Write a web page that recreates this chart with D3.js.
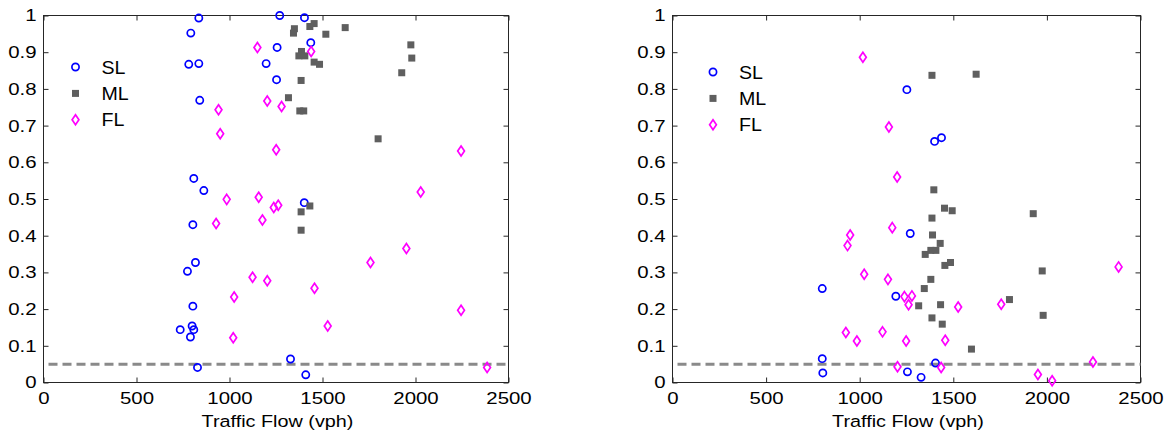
<!DOCTYPE html>
<html>
<head>
<meta charset="utf-8">
<script src="https://cdn.jsdelivr.net/npm/d3@7"></script>
<style>
  html, body { margin: 0; padding: 0; background: #fff; }
  svg { display: block; font-family: "Liberation Sans", Arial, sans-serif; }
</style>
</head>
<body>
<svg id="chart" width="1173" height="432"></svg>
<script>
// Axis ticks shared by both panels
const xTicks = [0, 500, 1000, 1500, 2000, 2500];
const yTicks = [0, 0.1, 0.2, 0.3, 0.4, 0.5, 0.6, 0.7, 0.8, 0.9, 1];
const xTickLabels = ["0", "500", "1000", "1500", "2000", "2500"];
const yTickLabels = ["0", "0.1", "0.2", "0.3", "0.4", "0.5", "0.6", "0.7", "0.8", "0.9", "1"];
const seriesNames = ["SL", "ML", "FL"];
const xLabel = "Traffic Flow (vph)";
const threshold = 0.05;

// Left panel: [flow, value]
const leftSL = [
  [835, 0.993], [792, 0.952], [781, 0.867], [835, 0.869], [840, 0.769],
  [1270, 1.0], [1256, 0.913], [1197, 0.869], [1253, 0.825], [808, 0.556],
  [862, 0.523], [1403, 0.994], [1437, 0.926], [803, 0.430], [817, 0.327],
  [774, 0.303], [803, 0.208], [735, 0.144], [799, 0.154], [808, 0.144],
  [790, 0.124], [828, 0.041], [1328, 0.064], [1402, 0.490], [1410, 0.021]
];
const leftML = [
  [1349, 0.964], [1344, 0.952], [1432, 0.970], [1455, 0.978], [1518, 0.949],
  [1622, 0.967], [1975, 0.920], [1980, 0.884], [1926, 0.844], [1387, 0.902],
  [1373, 0.890], [1405, 0.890], [1455, 0.873], [1484, 0.867], [1385, 0.823],
  [1317, 0.776], [1378, 0.740], [1399, 0.740], [1799, 0.664], [1385, 0.465],
  [1432, 0.481], [1385, 0.415]
];
const leftFL = [
  [1150, 0.913], [1439, 0.902], [1203, 0.767], [1280, 0.752], [941, 0.743],
  [950, 0.678], [1251, 0.634], [2245, 0.631], [2028, 0.519], [985, 0.499],
  [1157, 0.505], [1238, 0.477], [1262, 0.483], [928, 0.433], [1177, 0.443],
  [1124, 0.287], [1203, 0.277], [1025, 0.233], [1020, 0.122], [1951, 0.365],
  [1758, 0.327], [1457, 0.257], [2245, 0.197], [1528, 0.154], [2385, 0.041]
];

// Right panel: [flow, value]
const rightSL = [
  [1252, 0.798], [1400, 0.657], [1437, 0.667], [1270, 0.406], [800, 0.256],
  [1193, 0.235], [800, 0.065], [803, 0.026], [1255, 0.029], [1328, 0.014],
  [1405, 0.053]
];
const rightML = [
  [1386, 0.837], [1622, 0.840], [1396, 0.525], [1453, 0.475], [1494, 0.468],
  [1386, 0.448], [1927, 0.460], [1389, 0.402], [1430, 0.379], [1350, 0.349],
  [1380, 0.360], [1407, 0.360], [1455, 0.319], [1485, 0.327], [1975, 0.304],
  [1380, 0.281], [1345, 0.256], [1800, 0.226], [1315, 0.209], [1432, 0.212],
  [1386, 0.176], [1980, 0.183], [1441, 0.159], [1597, 0.091]
];
const rightFL = [
  [1017, 0.886], [1156, 0.696], [1200, 0.560], [1174, 0.422], [949, 0.402],
  [935, 0.373], [1024, 0.295], [1151, 0.281], [1239, 0.234], [1279, 0.236],
  [1261, 0.212], [926, 0.136], [1122, 0.138], [985, 0.113], [1248, 0.113],
  [1202, 0.043], [2383, 0.315], [1526, 0.206], [1756, 0.213], [1457, 0.115],
  [1435, 0.041], [2246, 0.056], [1952, 0.022], [2028, 0.005]
];

const svg = d3.select("#chart");
const plotTop = 15.5, plotBottom = 382.5;
const stretch = 1.2;   // wide-set label lettering

const panels = [
  { x0: 43.5, x1: 508.5, sl: leftSL, ml: leftML, fl: leftFL, legX: 75.5, legY: 67 },
  { x0: 672.5, x1: 1140.5, sl: rightSL, ml: rightML, fl: rightFL, legX: 713, legY: 72 }
];

const diamond = (g, cx, cy) => g.append("path")
  .attr("d", `M${cx},${cy - 5}L${cx + 3.4},${cy}L${cx},${cy + 5}L${cx - 3.4},${cy}Z`)
  .attr("fill", "none").attr("stroke", "#ff00ff").attr("stroke-width", 1.7);
const circle = (g, cx, cy) => g.append("circle")
  .attr("cx", cx).attr("cy", cy).attr("r", 3.6)
  .attr("fill", "none").attr("stroke", "#0000ff").attr("stroke-width", 1.7);
const square = (g, cx, cy) => g.append("rect")
  .attr("x", cx - 3.5).attr("y", cy - 3.5).attr("width", 7).attr("height", 7)
  .attr("fill", "#5f5f5f");

panels.forEach(p => {
  const x = d3.scaleLinear().domain([0, 2500]).range([p.x0, p.x1]);
  const y = d3.scaleLinear().domain([0, 1]).range([plotBottom, plotTop]);
  const g = svg.append("g");

  // bottom axis with inward ticks
  const xb = g.append("g").attr("transform", `translate(0,${plotBottom})`)
    .call(d3.axisBottom(x).tickValues(xTicks).tickSizeInner(-5).tickSizeOuter(0)
      .tickPadding(9.5).tickFormat((d, i) => xTickLabels[i]));
  // left axis with inward ticks
  const yl = g.append("g").attr("transform", `translate(${p.x0},0)`)
    .call(d3.axisLeft(y).tickValues(yTicks).tickSizeInner(-5).tickSizeOuter(0)
      .tickPadding(7).tickFormat((d, i) => yTickLabels[i]));
  // top and right mirror ticks
  const xt = g.append("g").attr("transform", `translate(0,${plotTop})`)
    .call(d3.axisTop(x).tickValues(xTicks).tickSizeInner(-5).tickSizeOuter(0).tickFormat(""));
  const yr = g.append("g").attr("transform", `translate(${p.x1},0)`)
    .call(d3.axisRight(y).tickValues(yTicks).tickSizeInner(-5).tickSizeOuter(0).tickFormat(""));

  [xb, yl, xt, yr].forEach(a => {
    a.select(".domain").remove();
    a.selectAll("line").attr("stroke", "#262626");
    a.selectAll("text").attr("font-size", 17).attr("fill", "#000")
      .attr("font-family", "'Liberation Sans', Arial, sans-serif");
  });
  xb.selectAll("text").attr("transform", `scale(${stretch},1)`);
  yl.selectAll("text").attr("x", 0).attr("transform", `translate(-7,0) scale(${stretch},1)`);

  // box
  g.append("rect").attr("x", p.x0).attr("y", plotTop)
    .attr("width", p.x1 - p.x0).attr("height", plotBottom - plotTop)
    .attr("fill", "none").attr("stroke", "#262626").attr("stroke-width", 1);

  // threshold line
  g.append("line")
    .attr("x1", x(0)).attr("x2", x(2500))
    .attr("y1", y(threshold)).attr("y2", y(threshold))
    .attr("stroke", "#8a8a8a").attr("stroke-width", 3)
    .attr("stroke-dasharray", "9,5").attr("stroke-dashoffset", 9);

  // markers
  p.sl.forEach(d => circle(g, x(d[0]), y(d[1])));
  p.ml.forEach(d => square(g, x(d[0]), y(d[1])));
  p.fl.forEach(d => diamond(g, x(d[0]), y(d[1])));

  // x label
  const cx = (p.x0 + p.x1) / 2 + 1.5;
  g.append("text")
    .attr("transform", `translate(${cx},426.5) scale(${stretch},1)`)
    .attr("text-anchor", "middle").attr("font-size", 16.5).text(xLabel);

  // legend
  const makers = [circle, square, diamond];
  seriesNames.forEach((name, i) => {
    const ly = p.legY + i * 26.4;
    makers[i](g, p.legX, ly);
    g.append("text")
      .attr("transform", `translate(${p.legX + 26},${ly}) scale(1.06,1)`)
      .attr("dy", "0.36em").attr("font-size", 18.5).text(name);
  });
});
</script>
</body>
</html>
